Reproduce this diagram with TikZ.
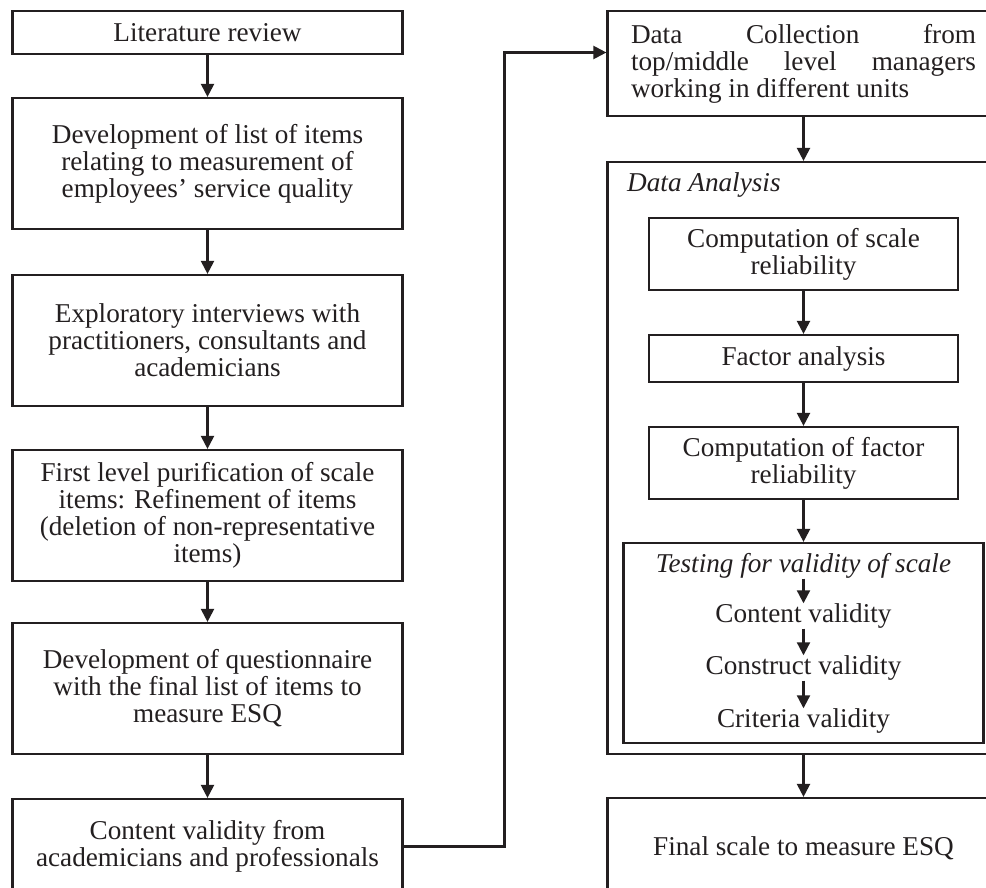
\documentclass[tikz,border=0pt]{standalone}
\usepackage{fontspec}
\setmainfont{Liberation Serif}
\usetikzlibrary{arrows.meta}
\definecolor{ink}{HTML}{231F20}
\begin{document}
\begin{tikzpicture}[x=1pt,y=-1pt,
  font=\fontsize{27.2}{27}\selectfont,
  box/.style={draw=ink, line width=2.2pt, align=center, inner sep=0pt, text=ink},
  lbl/.style={inner sep=0pt, text=ink, text height=19pt, text depth=6pt},
  arr/.style={draw=ink, line width=2.2pt, -{Triangle[length=13pt,width=13pt]}}]
\useasboundingbox (0,0) rectangle (986,888);
\clip (0,0) rectangle (986,888);
\fill[white] (0,0) rectangle (986,888);

% left column
\node[box, minimum width=390pt, minimum height=43pt] (lit) at (207.5,32.5) {Literature review};
\node[box, minimum width=390pt, minimum height=131pt] (devlist) at (207.5,163.5)
  {Development of list of items\\relating to measurement of\\employees’ service quality};
\node[box, minimum width=390pt, minimum height=131pt] (expl) at (207.5,340.5)
  {Exploratory interviews with\\practitioners, consultants and\\academicians};
\node[box, minimum width=390pt, minimum height=131pt] (first) at (207.5,515.5)
  {First level purification of scale\\items: Refinement of items\\(deletion of non-representative\\items)};
\node[box, minimum width=390pt, minimum height=131pt] (devq) at (207.5,688.5)
  {Development of questionnaire\\with the final list of items to\\measure ESQ};
\node[box, minimum width=390pt, minimum height=95pt] (content) at (207.5,846.5)
  {Content validity from\\academicians and professionals};

\draw[arr] (lit) -- (devlist);
\draw[arr] (devlist) -- (expl);
\draw[arr] (expl) -- (first);
\draw[arr] (first) -- (devq);
\draw[arr] (devq) -- (content);

% right column
\node[box, minimum width=392pt, minimum height=105pt] (dc) at (803.5,63.5)
  {\parbox{345pt}{\makebox[345pt][s]{Data Collection from}\\\makebox[345pt][s]{top/middle level managers}\\working in different units}};
\node[box, minimum width=392pt, minimum height=592pt] (da) at (803.5,458) {};
\node[lbl, anchor=west] (dalabel) at (627,185) {\itshape Data Analysis};
\node[box, minimum width=309pt, minimum height=72pt] (cscale) at (803.5,254)
  {Computation of scale\\reliability};
\node[box, minimum width=309pt, minimum height=47pt] (factor) at (803.5,358.5)
  {Factor analysis};
\node[box, minimum width=309pt, minimum height=72pt] (cfactor) at (803.5,463)
  {Computation of factor\\reliability};
\node[box, minimum width=360pt, minimum height=200pt] (testing) at (803.5,643) {};
\node[lbl] (t0) at (803.5,566) {\itshape Testing for validity of scale};
\node[lbl] (t1) at (803.5,616) {Content validity};
\node[lbl] (t2) at (803.5,668) {Construct validity};
\node[lbl] (t3) at (803.5,721) {Criteria validity};
\node[box, minimum width=392pt, minimum height=100pt] (final) at (803.5,848)
  {Final scale to measure ESQ};

\draw[arr] (dc) -- (da.north -| dc);
\draw[arr] (cscale) -- (factor);
\draw[arr] (factor) -- (cfactor);
\draw[arr] (cfactor.south) -- (cfactor.south |- testing.north);
\draw[arr] (t0) -- (t1);
\draw[arr] (t1) -- (t2);
\draw[arr] (t2) -- (t3);
\draw[arr] (da.south) -- (final.north);

% connector
\coordinate (up) at (504.5,52.5);
\draw[arr] (content.east) -| (up) -- (dc.west |- up);
\end{tikzpicture}
\end{document}
